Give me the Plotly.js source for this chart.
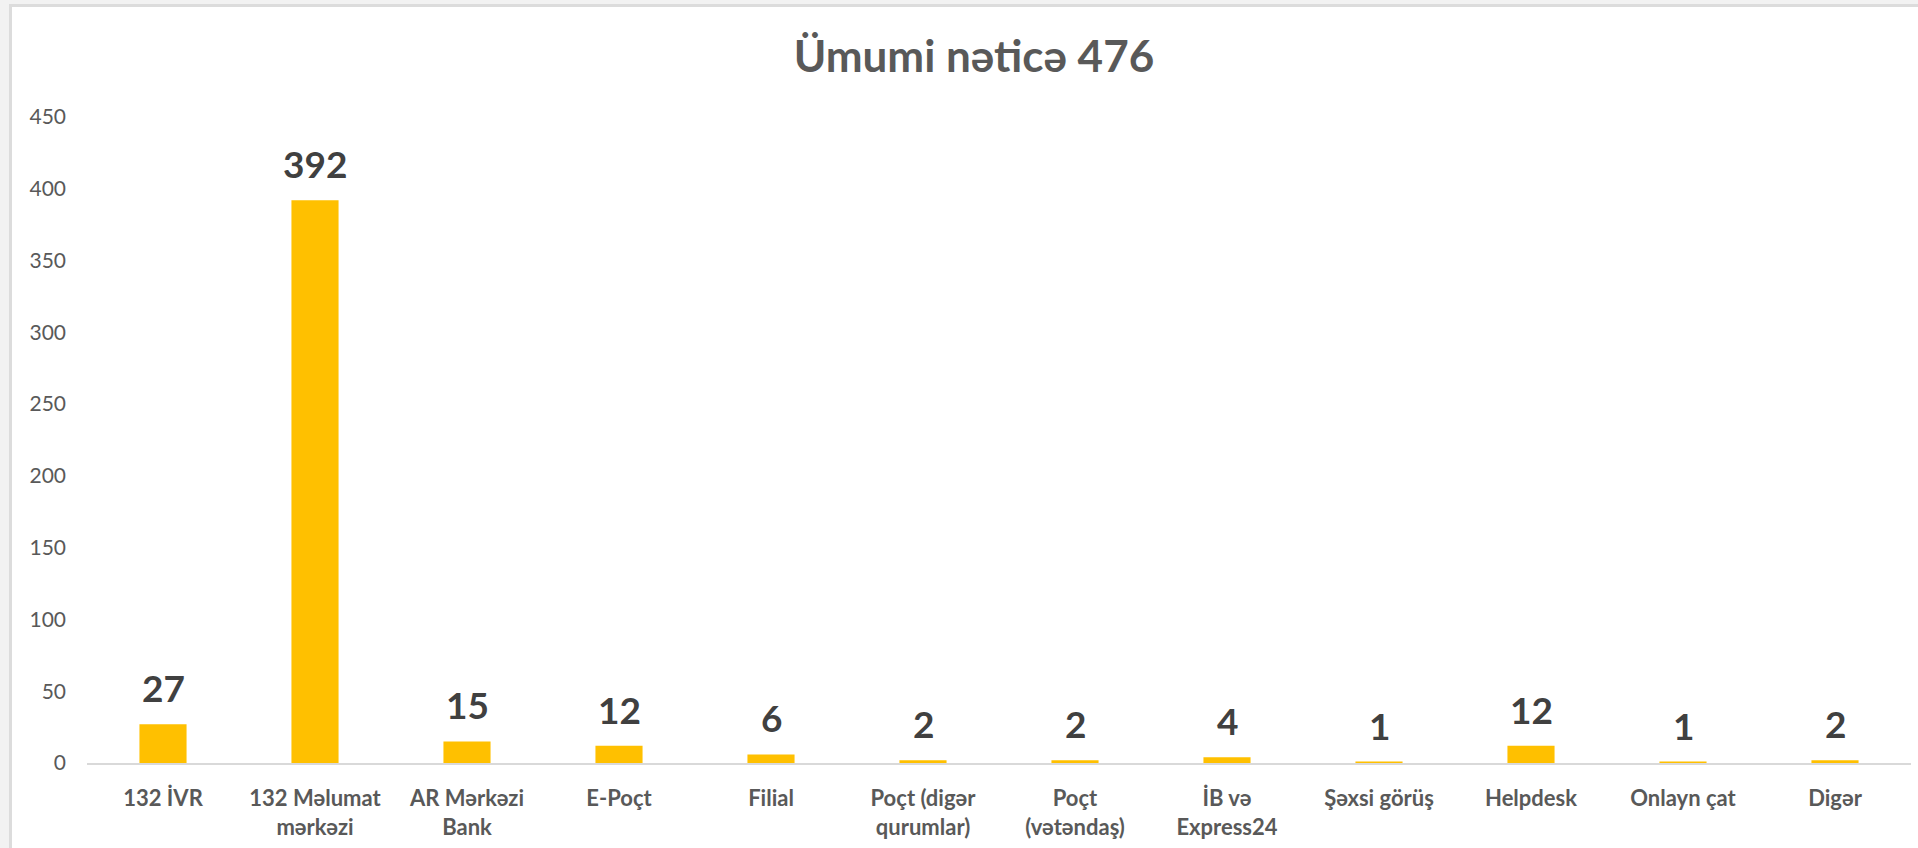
<!DOCTYPE html>
<html>
<head>
<meta charset="utf-8">
<script src="https://cdn.plot.ly/plotly-3.0.1.min.js"></script>
<style>
  html, body { margin: 0; padding: 0; background: #f2f2f2; width: 1918px; height: 848px; overflow: hidden; }
  #chart { position: absolute; left: 9px; top: 4px; width: 1909px; height: 844px;
           border-left: 3px solid #dcdcdc; border-top: 3px solid #dcdcdc; background: #fff; }
</style>
</head>
<body>
<div id="chart"></div>
<script>
const categories = [
  "132 İVR",
  "132 Məlumat<br>mərkəzi",
  "AR Mərkəzi<br>Bank",
  "E-Poçt",
  "Filial",
  "Poçt (digər<br>qurumlar)",
  "Poçt<br>(vətəndaş)",
  "İB və<br>Express24",
  "Şəxsi görüş",
  "Helpdesk",
  "Onlayn çat",
  "Digər"
];
const values = [27, 392, 15, 12, 6, 2, 2, 4, 1, 12, 1, 2];
const titleText = "Ümumi nəticə 476";
const yTicks = [0, 50, 100, 150, 200, 250, 300, 350, 400, 450];

const trace = {
  type: "bar",
  x: categories,
  y: values,
  marker: { color: "#FFC000" },
  hoverinfo: "x+y"
};

const annotations = categories.map((c, i) => ({
  x: c, y: values[i], xref: "x", yref: "y",
  text: String(values[i]),
  showarrow: false,
  yanchor: "bottom",
  yshift: 12,
  font: { family: "Lato, 'Open Sans', sans-serif", size: 37, color: "#404040", weight: 700 }
}));

const layout = {
  width: 1906, height: 841,
  margin: { l: 75, r: 7, t: 110, b: 85 },
  paper_bgcolor: "#ffffff",
  plot_bgcolor: "#ffffff",
  bargap: 0.69,
  showlegend: false,
  title: {
    text: "<b>" + titleText + "</b>",
    x: 0.5047, xref: "container", xanchor: "center",
    y: 0.941, yref: "container", yanchor: "middle",
    font: { family: "Lato, 'Open Sans', sans-serif", size: 44, color: "#595959" }
  },
  xaxis: {
    type: "category",
    showgrid: false,
    zeroline: false,
    showline: true,
    linecolor: "#d9d9d9",
    linewidth: 2,
    ticks: "",
    ticklabelstandoff: 15,
    tickfont: { family: "Lato, 'Open Sans', sans-serif", size: 22, color: "#595959", weight: 700 }
  },
  yaxis: {
    range: [0, 450],
    tickvals: yTicks,
    ticktext: yTicks.map(String),
    showgrid: false,
    zeroline: false,
    showline: false,
    ticks: "",
    ticklabelstandoff: 20,
    tickfont: { family: "Lato, 'Open Sans', sans-serif", size: 21, color: "#595959" }
  },
  annotations: annotations
};

Plotly.newPlot("chart", [trace], layout, { displayModeBar: false, staticPlot: true });
</script>
</body>
</html>
